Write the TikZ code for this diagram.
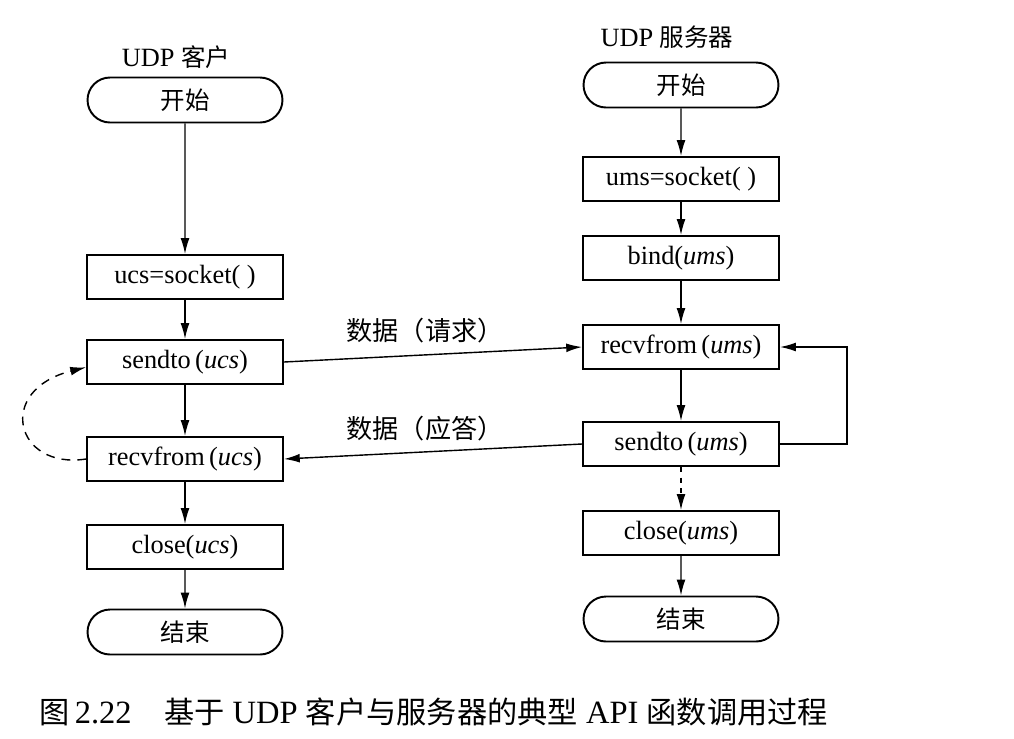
\documentclass[tikz,border=0pt]{standalone}
\usepackage{fontspec}
\setmainfont{Liberation Serif}
\newfontfamily\cjk{Noto Sans CJK SC}[Scale=0.93]
\usetikzlibrary{arrows.meta,shapes.misc}
\begin{document}
\begin{tikzpicture}[x=0.02cm,y=-0.02cm,
  font=\fontsize{15}{18}\selectfont,
  box/.style={draw,line width=1.1pt,minimum width=3.92cm,minimum height=0.88cm,inner sep=0pt},
  term/.style={draw,line width=1.1pt,rounded rectangle,minimum width=3.9cm,minimum height=0.9cm,inner sep=0pt},
  arr/.style={-{Latex[length=9pt,width=5pt]},line width=0.8pt},
  lbl/.style={inner sep=1pt}]
\useasboundingbox (0,0) rectangle (1014,738);
% titles
\node[lbl] (ct) at (176,57) {UDP {\cjk 客户}};
\node[lbl] (st) at (667,37) {UDP {\cjk 服务器}};
% client column
\node[term] (cs) at (185,100) {\cjk 开始};
\node[box] (c1) at (185,277) {ucs=socket( )};
\node[box] (c2) at (185,362) {sendto\,(\textit{ucs})};
\node[box] (c3) at (185,459) {recvfrom\,(\textit{ucs})};
\node[box] (c4) at (185,547) {close(\textit{ucs})};
\node[term] (ce) at (185,632) {\cjk 结束};
% server column
\node[term] (ss) at (681,85) {\cjk 开始};
\node[box] (s1) at (681,179) {ums=socket( )};
\node[box] (s2) at (681,258) {bind(\textit{ums})};
\node[box] (s3) at (681,347) {recvfrom\,(\textit{ums})};
\node[box] (s4) at (681,444) {sendto\,(\textit{ums})};
\node[box] (s5) at (681,533) {close(\textit{ums})};
\node[term] (se) at (681,619) {\cjk 结束};
% client arrows
\draw[arr] (cs) -- (c1);
\draw[arr] (c1) -- (c2);
\draw[arr] (c2) -- (c3);
\draw[arr] (c3) -- (c4);
\draw[arr] (c4) -- (ce);
% server arrows
\draw[arr] (ss) -- (s1);
\draw[arr] (s1) -- (s2);
\draw[arr] (s2) -- (s3);
\draw[arr] (s3) -- (s4);
\draw[arr,dash pattern=on 3pt off 3pt] (s4) -- (s5);
\draw[arr] (s5) -- (se);
% data exchange
\draw[arr] (c2.east) -- (s3.west);
\draw[arr] (s4.west) -- (c3.east);
\node[lbl,font=\fontsize{16}{19}\selectfont] (l1) at (425,331) {\cjk 数据（请求）};
\node[lbl,font=\fontsize{16}{19}\selectfont] (l2) at (425,429) {\cjk 数据（应答）};
% server loop
\coordinate (lp) at (847,441);
\draw[arr] (s4.east) -- (s4.east -| lp) |- (s3.east);
% client dashed loop
\draw[arr,dash pattern=on 5pt off 4pt] (c3.west) .. controls (15,470) and (-5,390) .. ([yshift=-3pt]c2.west);
% caption
\node[anchor=west,lbl,font=\fontsize{18.5}{22}\selectfont] (cap) at (37,712) {{\cjk 图}\,2.22\hspace{1em}{\cjk 基于} UDP {\cjk 客户与服务器的典型} API {\cjk 函数调用过程}};
\end{tikzpicture}
\end{document}
